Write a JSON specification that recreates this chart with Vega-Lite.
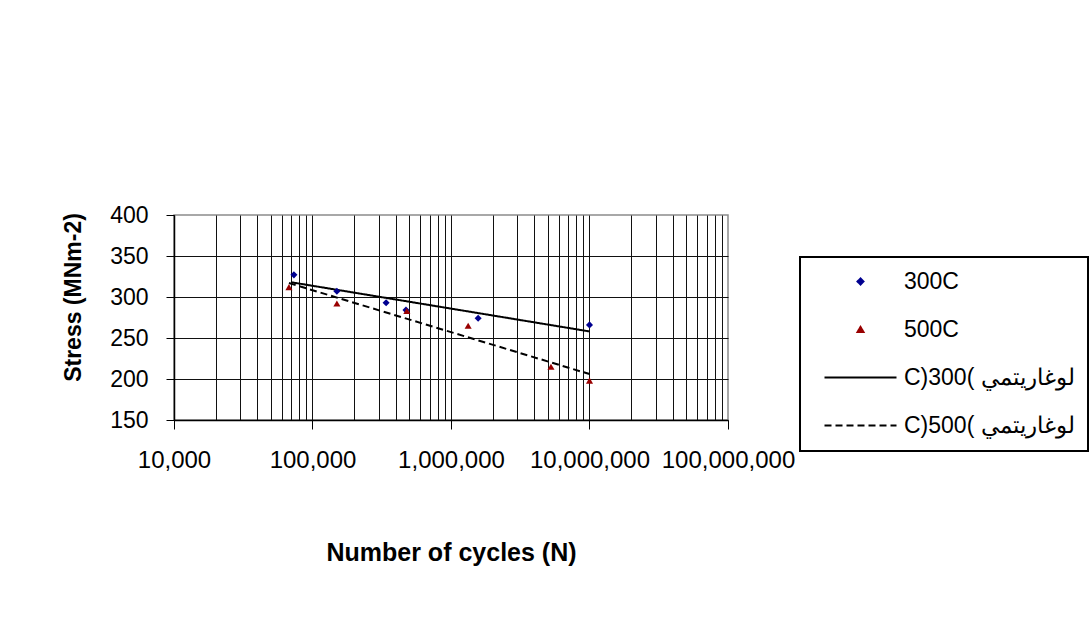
{
  "$schema": "https://vega.github.io/schema/vega-lite/v6.json",
  "width": 554,
  "height": 205,
  "autosize": {"type": "none"},
  "padding": {"left": 174, "top": 215, "right": 362, "bottom": 205},
  "background": "white",
  "config": {
    "view": {"stroke": "#8c8c8c", "strokeWidth": 1.5},
    "font": "Liberation Sans"
  },
  "data": {
    "values": [
      {"series": "300C", "kind": "obs", "N": 73400, "stress": 327},
      {"series": "300C", "kind": "obs", "N": 150000, "stress": 307},
      {"series": "300C", "kind": "obs", "N": 340000, "stress": 293},
      {"series": "300C", "kind": "obs", "N": 473000, "stress": 284},
      {"series": "300C", "kind": "obs", "N": 1570000, "stress": 274},
      {"series": "300C", "kind": "obs", "N": 10000000, "stress": 266},
      {"series": "500C", "kind": "obs", "N": 67600, "stress": 312},
      {"series": "500C", "kind": "obs", "N": 150000, "stress": 292},
      {"series": "500C", "kind": "obs", "N": 480000, "stress": 283},
      {"series": "500C", "kind": "obs", "N": 1330000, "stress": 265},
      {"series": "500C", "kind": "obs", "N": 5270000, "stress": 215},
      {"series": "500C", "kind": "obs", "N": 10000000, "stress": 198},
      {"series": "‪C)300(‎ لوغاريتمي‬", "kind": "trend", "N": 70000, "stress": 318},
      {"series": "‪C)300(‎ لوغاريتمي‬", "kind": "trend", "N": 10000000, "stress": 258},
      {"series": "‪C)500(‎ لوغاريتمي‬", "kind": "trend", "N": 67600, "stress": 317},
      {"series": "‪C)500(‎ لوغاريتمي‬", "kind": "trend", "N": 10000000, "stress": 206}
    ]
  },
  "encoding": {
    "x": {
      "field": "N",
      "type": "quantitative",
      "title": "Number of cycles (N)",
      "scale": {"type": "log", "domain": [10000, 100000000], "nice": false},
      "axis": {
        "values": [10000, 20000, 30000, 40000, 50000, 60000, 70000, 80000, 90000, 100000, 200000, 300000, 400000, 500000, 600000, 700000, 800000, 900000, 1000000, 2000000, 3000000, 4000000, 5000000, 6000000, 7000000, 8000000, 9000000, 10000000, 20000000, 30000000, 40000000, 50000000, 60000000, 70000000, 80000000, 90000000, 100000000],
        "labelExpr": "indexof([10000, 100000, 1000000, 10000000, 100000000], datum.value) >= 0 ? format(datum.value, ',') : ''",
        "grid": true,
        "gridColor": "#111111",
        "gridWidth": 1,
        "gridOpacity": {"condition": {"test": "datum.value >= 100000000", "value": 0}, "value": 1},
        "ticks": true,
        "tickSize": 9,
        "tickColor": "#000000",
        "tickWidth": 1,
        "tickOpacity": {"condition": {"test": "indexof([10000, 100000, 1000000, 10000000, 100000000], datum.value) >= 0", "value": 1}, "value": 0},
        "domainColor": "#000000",
        "domainWidth": 1.5,
        "labelFont": "Liberation Sans",
        "labelFontSize": 24,
        "labelColor": "#000000",
        "labelPadding": 19,
        "labelFlush": false,
        "labelOverlap": false,
        "labelBound": false,
        "titleFont": "Liberation Sans",
        "titleFontSize": 25,
        "titleFontWeight": "bold",
        "titleColor": "#000000",
        "titlePadding": 68
      }
    },
    "y": {
      "field": "stress",
      "type": "quantitative",
      "title": "Stress (MNm-2)",
      "scale": {"domain": [150, 400], "nice": false, "zero": false},
      "axis": {
        "values": [150, 200, 250, 300, 350, 400],
        "grid": true,
        "gridColor": "#111111",
        "gridWidth": 1,
        "gridOpacity": {"condition": {"test": "datum.value >= 400", "value": 0}, "value": 1},
        "tickSize": 8,
        "tickColor": "#000000",
        "domainColor": "#000000",
        "domainWidth": 1.5,
        "labelFont": "Liberation Sans",
        "labelFontSize": 23,
        "labelColor": "#000000",
        "labelPadding": 18,
        "labelFlush": false,
        "labelOverlap": false,
        "titleFont": "Liberation Sans",
        "titleFontSize": 23,
        "titleFontWeight": "bold",
        "titleColor": "#000000",
        "titlePadding": 24,
        "titleY": 82
      }
    },
    "color": {
      "field": "series",
      "type": "nominal",
      "scale": {
        "domain": ["300C", "500C", "‪C)300(‎ لوغاريتمي‬", "‪C)500(‎ لوغاريتمي‬"],
        "range": ["#000090", "#990000", "#000000", "#000000"]
      },
      "legend": {
        "orient": "none",
        "legendX": 626,
        "legendY": 42,
        "title": null,
        "labelFont": "Liberation Sans",
        "labelFontSize": 23,
        "labelColor": "#000000",
        "labelLimit": 400,
        "strokeColor": "#000000",
        "fillColor": "#ffffff",
        "padding": 13,
        "rowPadding": 24,
        "symbolSize": 36,
        "symbolStrokeWidth": 2,
        "symbolOffset": 36,
        "labelOffset": 32,
        "encode": {"legend": {"update": {"strokeWidth": {"value": 2}}}}
      }
    }
  },
  "layer": [
    {
      "transform": [{"filter": "datum.kind === 'trend'"}],
      "mark": {"type": "line", "strokeWidth": 2},
      "encoding": {
        "strokeDash": {
          "field": "series",
          "type": "nominal",
          "scale": {
            "domain": ["300C", "500C", "‪C)300(‎ لوغاريتمي‬", "‪C)500(‎ لوغاريتمي‬"],
            "range": [[1, 0], [1, 0], [1, 0], [7, 4]]
          }
        }
      }
    },
    {
      "transform": [{"filter": "datum.kind === 'obs'"}],
      "mark": {"type": "point", "filled": true, "size": 50, "opacity": 1},
      "encoding": {
        "shape": {
          "field": "series",
          "type": "nominal",
          "scale": {
            "domain": ["300C", "500C", "‪C)300(‎ لوغاريتمي‬", "‪C)500(‎ لوغاريتمي‬"],
            "range": ["diamond", "triangle-up", "M-12,0H12", "M-12,0H12"]
          }
        }
      }
    }
  ]
}
